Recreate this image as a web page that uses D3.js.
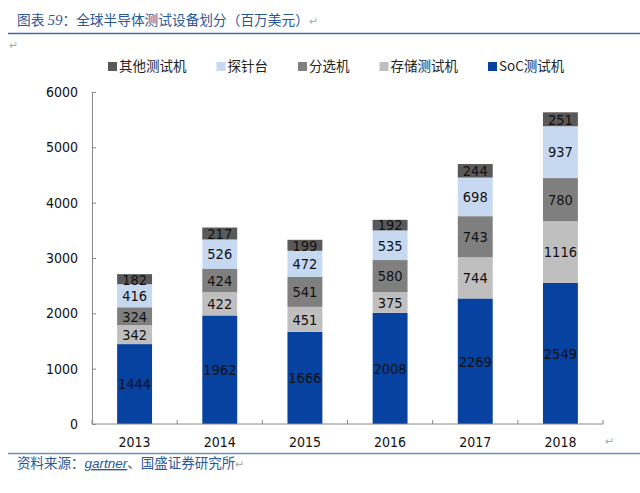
<!DOCTYPE html>
<html><head><meta charset="utf-8">
<script src="https://cdn.jsdelivr.net/npm/d3@7"></script>
<style>
html,body{margin:0;padding:0;background:#fff;}
svg{display:block;}
.num{font-family:'DejaVu Sans Condensed','DejaVu Sans',Verdana,sans-serif;font-stretch:condensed;}
</style></head>
<body>
<svg id="chart" width="640" height="493"></svg>
<script>
const years = ["2013","2014","2015","2016","2017","2018"];
const socTester = [1444,1962,1666,2008,2269,2549];
const memoryTester = [342,422,451,375,744,1116];
const handler = [324,424,541,580,743,780];
const prober = [416,526,472,535,698,937];
const otherTester = [182,217,199,192,244,251];
const seriesNames = ["SoC测试机","存储测试机","分选机","探针台","其他测试机"];
const seriesColors = ["#0742A0","#BFBFBF","#7F7F7F","#C6D9F0","#595959"];
const legendOrder = ["其他测试机","探针台","分选机","存储测试机","SoC测试机"];
const yTicks = [0,1000,2000,3000,4000,5000,6000];

const seriesValues = [socTester, memoryTester, handler, prober, otherTester];
const rows = years.map((y,i)=>{
  const r = {year:y};
  seriesNames.forEach((n,k)=>r[n]=seriesValues[k][i]);
  return r;
});
const stacked = d3.stack().keys(seriesNames)(rows);
const color = d3.scaleOrdinal().domain(seriesNames).range(seriesColors);

const svg = d3.select("#chart");
const cjk = "'Noto Sans CJK SC', sans-serif";

// Title
const title = svg.append("text").attr("x",17).attr("y",25)
  .attr("font-family",cjk).attr("font-size",13.7).attr("fill","#2A5896");
title.append("tspan").text("图表 ");
title.append("tspan").attr("font-style","italic").attr("font-family","'Liberation Serif', serif").attr("font-size",15).text("59");
title.append("tspan").text("：全球半导体测试设备划分（百万美元）");
title.append("tspan").attr("fill","#AAAAAA").attr("font-size",11).text("↵");
svg.append("line").attr("x1",8).attr("x2",640).attr("y1",33.5).attr("y2",33.5)
  .attr("stroke","#3E6BA8").attr("stroke-width",1.3);
svg.append("text").attr("x",9).attr("y",49).attr("font-family",cjk).attr("font-size",11)
  .attr("fill","#AAAAAA").text("↵");

// Scales
const x = d3.scaleBand().domain(years).range([92,603]).paddingInner(0.59).paddingOuter(0.295);
const y = d3.scaleLinear().domain([0,6000]).range([424,92]);

// Bars
const layer = svg.append("g").selectAll("g").data(stacked).join("g")
  .attr("fill",d=>color(d.key));
layer.selectAll("rect").data(d=>d).join("rect")
  .attr("x",d=>x(d.data.year)).attr("width",x.bandwidth())
  .attr("y",d=>y(d[1])).attr("height",d=>y(d[0])-y(d[1]));

// Labels
const lab = svg.append("g").selectAll("g").data(stacked).join("g");
lab.selectAll("text").data(d=>d.map(v=>({v,key:d.key}))).join("text")
  .attr("class","num")
  .attr("x",d=>x(d.v.data.year)+x.bandwidth()/2)
  .attr("y",d=>(y(d.v[0])+y(d.v[1]))/2)
  .attr("dy","0.37em").attr("text-anchor","middle")
  .attr("font-size",14.5).attr("fill","#111")
  .text(d=>d.v.data[d.key]);

// Y axis
const yAxis = d3.axisLeft(y).tickValues(yTicks).tickSize(-4).tickPadding(14).tickFormat(d3.format("d"));
const gy = svg.append("g").attr("transform","translate(92,0)").call(yAxis);
gy.attr("font-family",null);
gy.select(".domain").attr("stroke","#888");
gy.selectAll(".tick line").attr("stroke","#888");
gy.selectAll(".tick text").attr("class","num").attr("font-size",14).attr("fill","#111");

// X axis
const gx = svg.append("g").attr("transform","translate(0,424)");
gx.append("line").attr("x1",92).attr("x2",603).attr("stroke","#888");
const bounds = years.map(yv=>x(yv)-x.step()*x.paddingInner()/2).concat([603]);
gx.selectAll("line.tk").data(bounds).join("line").attr("class","tk")
  .attr("x1",d=>d).attr("x2",d=>d).attr("y1",0).attr("y2",-4).attr("stroke","#888");
gx.selectAll("text").data(years).join("text").attr("class","num")
  .attr("x",d=>x(d)+x.bandwidth()/2).attr("y",23).attr("text-anchor","middle")
  .attr("font-size",14).attr("fill","#111").text(d=>d);
svg.append("text").attr("x",605).attr("y",445).attr("font-family",cjk).attr("font-size",11)
  .attr("fill","#AAAAAA").text("↵");

// Legend
const lg = svg.append("g");
let lx = 108;
legendOrder.forEach(name=>{
  const g = lg.append("g");
  g.append("rect").attr("x",lx).attr("y",62).attr("width",9).attr("height",9).attr("fill",color(name));
  const t = g.append("text").attr("x",lx+11).attr("y",71).attr("font-family",cjk)
    .attr("font-size",13.5).attr("fill","#222").text(name);
  lx += 11 + t.node().getComputedTextLength() + 30;
});

// Source
svg.append("line").attr("x1",8).attr("x2",640).attr("y1",453.5).attr("y2",453.5)
  .attr("stroke","#6F8FBF").attr("stroke-width",1.3);
const src = svg.append("text").attr("x",17).attr("y",468).attr("font-family",cjk)
  .attr("font-size",13.5).attr("fill","#2A5896");
src.append("tspan").text("资料来源：");
src.append("tspan").attr("font-style","italic").attr("font-family","'Liberation Sans', sans-serif")
  .attr("style","text-decoration: underline wavy #E03030;").text("gartner");
src.append("tspan").text("、国盛证券研究所");
src.append("tspan").attr("fill","#AAAAAA").attr("font-size",11).text("↵");
</script>
</body></html>
